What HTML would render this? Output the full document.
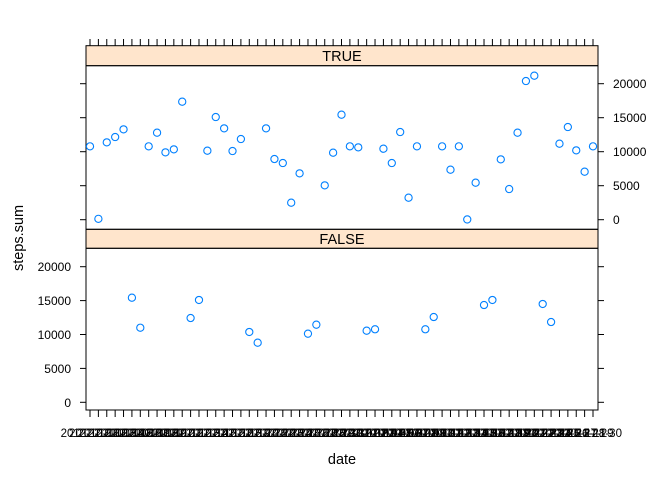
<!DOCTYPE html>
<html><head><meta charset="utf-8"><style>
body{margin:0;background:#fff;}
svg{display:block;font-family:"Liberation Sans",sans-serif;}
</style></head><body>
<svg id="chart" width="672" height="480" viewBox="0 0 672 480" xmlns="http://www.w3.org/2000/svg"></svg>
<script>
const categories = [];
(function(){const d=new Date(Date.UTC(2012,9,1));for(let i=0;i<61;i++){const t=new Date(d.getTime()+i*86400000);categories.push(t.toISOString().slice(0,10));}})();
const trueIdx = [0,1,2,3,4,7,8,9,10,11,14,15,16,17,18,21,22,23,24,25,28,29,30,31,32,35,36,37,38,39,42,43,44,45,46,49,50,51,52,53,56,57,58,59,60];
const trueValues = [10785,126,11373,12157,13284,10785,12794,9902,10343,17353,10147,15098,13431,10098,11863,13431,8922,8333,2500,6814,5049,9853,15441,10785,10637,10441,8333,12892,3235,10785,10785,7353,10785,41,5441,8873,4510,12794,20392,21176,11176,13627,10196,7059,10785];
const falseIdx = [5,6,12,13,19,20,26,27,33,34,40,41,47,48,54,55];
const falseValues = [15427,11000,12430,15090,10370,8790,10120,11450,10560,10770,10770,12580,14350,15090,14500,11840];
const yTicks = [0,5000,10000,15000,20000];

const svg=document.getElementById('chart');
const NS='http://www.w3.org/2000/svg';
function mk(tag,attrs,parent){const e=document.createElementNS(NS,tag);for(const k in attrs)e.setAttribute(k,attrs[k]);(parent||svg).appendChild(e);return e;}
const L=86,R=598;
const x=i=>90+i*(593-90)/60;
const yTop=v=>219.7-v*(136/20000);
const yBot=v=>402.3-v*(135.6/20000);

// strips
const s1=mk('rect',{x:L,y:45.7,width:R-L,height:20,fill:'#ffe5cc',stroke:'#000','stroke-width':1});


const t1=mk('text',{x:(L+R)/2,y:61,'text-anchor':'middle','font-size':14.5});t1.textContent='TRUE';


const s2=mk('rect',{x:L,y:229.3,width:R-L,height:19,fill:'#ffe5cc',stroke:'#000','stroke-width':1});


const t2=mk('text',{x:(L+R)/2,y:244,'text-anchor':'middle','font-size':14.5});t2.textContent='FALSE';


// panel borders
const p1=mk('rect',{x:L,y:65.7,width:R-L,height:163.6,fill:'none',stroke:'#000','stroke-width':1});


const p2=mk('rect',{x:L,y:248.3,width:R-L,height:161.7,fill:'none',stroke:'#000','stroke-width':1});



// y ticks
yTicks.forEach(v=>{
  const a=yTop(v);
  const tl=mk('line',{x1:80,x2:L,y1:a,y2:a,stroke:'#000'});
  
  
  const tr=mk('line',{x1:R,x2:604,y1:a,y2:a,stroke:'#000'});
  
  
  const lb=mk('text',{x:613,y:a+4.5,'font-size':12});lb.textContent=v;
  
  
  const b=yBot(v);
  const bl=mk('line',{x1:80,x2:L,y1:b,y2:b,stroke:'#000'});
  
  
  const br=mk('line',{x1:R,x2:604,y1:b,y2:b,stroke:'#000'});
  
  
  const lb2=mk('text',{x:71,y:b+4.5,'font-size':12,'text-anchor':'end'});lb2.textContent=v;
  
  
});
// x ticks
categories.forEach((c,i)=>{
  const xi=x(i);
  const tt=mk('line',{x1:xi,x2:xi,y1:39,y2:45.7,stroke:'#000'});
  
  
  const tb=mk('line',{x1:xi,x2:xi,y1:410,y2:417,stroke:'#000'});
  
  
  const lb=mk('text',{x:xi,y:437,'font-size':11.5,'text-anchor':'middle'});lb.textContent=c;
  
  
});
// points
trueIdx.forEach((i,k)=>{
  const c=mk('circle',{cx:x(i),cy:yTop(trueValues[k]),r:3.6,fill:'none',stroke:'#0080ff','stroke-width':1.1});
  
  
});
falseIdx.forEach((i,k)=>{
  const c=mk('circle',{cx:x(i),cy:yBot(falseValues[k]),r:3.6,fill:'none',stroke:'#0080ff','stroke-width':1.1});
  
  
});
// axis titles
const xt=mk('text',{x:342,y:464,'font-size':14.5,'text-anchor':'middle'});xt.textContent='date';


const yt=mk('text',{x:0,y:0,'font-size':14.5,'text-anchor':'middle',transform:'translate(23,238) rotate(-90)'});yt.textContent='steps.sum';


</script>
</body></html>
